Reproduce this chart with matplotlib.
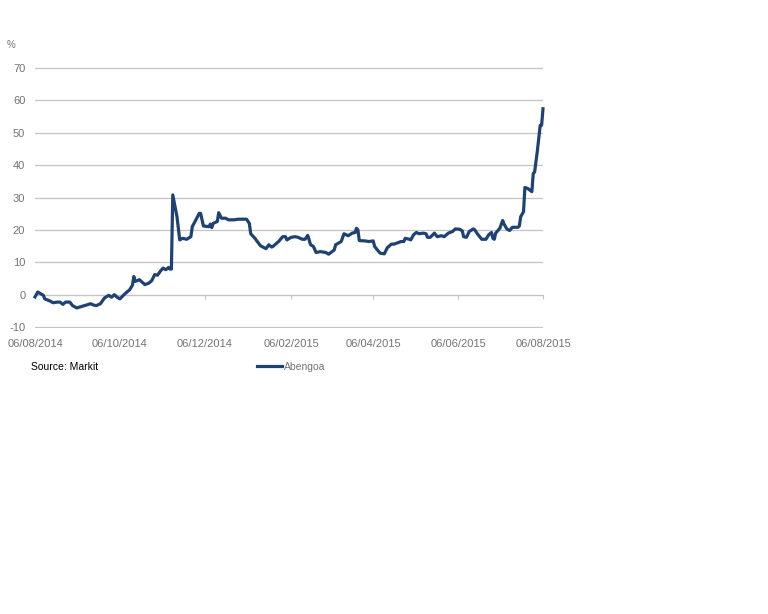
import pandas as pd
import matplotlib
matplotlib.use("Agg")
import matplotlib.pyplot as plt
import matplotlib.dates as mdates

plt.rcParams['font.family'] = ['Liberation Sans', 'DejaVu Sans']
plt.rcParams['axes.unicode_minus'] = False

# Abengoa series (dd/mm/yyyy dates, % values)
dates = [
    "2014-08-06", "2014-08-08", "2014-08-10", "2014-08-12", "2014-08-13", "2014-08-17",
    "2014-08-19", "2014-08-22", "2014-08-24", "2014-08-26", "2014-08-28", "2014-08-31",
    "2014-09-02", "2014-09-05", "2014-09-09", "2014-09-12", "2014-09-15", "2014-09-17",
    "2014-09-19", "2014-09-22", "2014-09-25", "2014-09-28", "2014-09-30", "2014-10-02",
    "2014-10-04", "2014-10-06", "2014-10-09", "2014-10-11", "2014-10-13", "2014-10-15",
    "2014-10-16", "2014-10-17", "2014-10-20", "2014-10-24", "2014-10-27", "2014-10-29",
    "2014-10-31", "2014-11-02", "2014-11-04", "2014-11-06", "2014-11-08", "2014-11-10",
    "2014-11-11", "2014-11-12", "2014-11-13", "2014-11-16", "2014-11-18", "2014-11-20",
    "2014-11-23", "2014-11-26", "2014-11-27", "2014-11-29", "2014-12-02", "2014-12-03",
    "2014-12-05", "2014-12-09", "2014-12-10", "2014-12-11", "2014-12-12", "2014-12-15",
    "2014-12-16", "2014-12-18", "2014-12-21", "2014-12-23", "2014-12-27", "2014-12-30",
    "2015-01-05", "2015-01-07", "2015-01-08", "2015-01-11", "2015-01-15", "2015-01-19",
    "2015-01-21", "2015-01-23", "2015-01-24", "2015-01-28", "2015-01-31", "2015-02-02",
    "2015-02-03", "2015-02-06", "2015-02-09", "2015-02-11", "2015-02-14", "2015-02-16",
    "2015-02-18", "2015-02-20", "2015-02-22", "2015-02-24", "2015-02-27", "2015-03-03",
    "2015-03-05", "2015-03-08", "2015-03-09", "2015-03-10", "2015-03-14", "2015-03-16",
    "2015-03-19", "2015-03-22", "2015-03-24", "2015-03-25", "2015-03-26", "2015-03-27",
    "2015-03-31", "2015-04-03", "2015-04-06", "2015-04-07", "2015-04-09", "2015-04-11",
    "2015-04-14", "2015-04-16", "2015-04-19", "2015-04-21", "2015-04-24", "2015-04-26",
    "2015-04-28", "2015-04-29", "2015-05-02", "2015-05-03", "2015-05-05", "2015-05-07",
    "2015-05-09", "2015-05-12", "2015-05-14", "2015-05-15", "2015-05-17", "2015-05-20",
    "2015-05-22", "2015-05-25", "2015-05-27", "2015-05-30", "2015-06-02", "2015-06-04",
    "2015-06-07", "2015-06-09", "2015-06-10", "2015-06-12", "2015-06-14", "2015-06-17",
    "2015-06-18", "2015-06-20", "2015-06-23", "2015-06-26", "2015-06-28", "2015-06-30",
    "2015-07-01", "2015-07-02", "2015-07-03", "2015-07-06", "2015-07-08", "2015-07-09",
    "2015-07-11", "2015-07-13", "2015-07-15", "2015-07-19", "2015-07-20", "2015-07-21",
    "2015-07-23", "2015-07-24", "2015-07-26", "2015-07-29", "2015-07-30", "2015-07-31",
    "2015-08-02", "2015-08-04", "2015-08-05", "2015-08-06",
]
abengoa = [
    -0.7, 0.8, 0.3, -0.2, -1.3, -2.0,
    -2.5, -2.3, -2.3, -3.0, -2.3, -2.3,
    -3.4, -4.1, -3.6, -3.2, -2.8, -3.2,
    -3.4, -2.8, -1.0, -0.2, -0.8, 0.0,
    -0.8, -1.3, 0.0, 0.8, 1.5, 2.9,
    5.6, 4.1, 4.6, 3.1, 3.6, 4.4,
    6.2, 6.0, 7.2, 8.2, 7.7, 8.4,
    7.9, 7.9, 30.8, 24.1, 16.9, 17.4,
    17.1, 17.9, 21.0, 22.6, 25.1, 25.1,
    21.2, 21.0, 21.8, 20.7, 22.0, 22.6,
    25.3, 23.6, 23.6, 23.1, 23.1, 23.3,
    23.3, 22.0, 18.8, 17.4, 15.1, 14.2,
    15.4, 14.7, 14.9, 16.4, 17.9, 17.9,
    16.9, 17.7, 17.9, 17.7, 17.1, 17.1,
    18.3, 15.4, 14.9, 13.0, 13.3, 13.0,
    12.5, 13.5, 13.8, 15.4, 16.4, 18.8,
    18.2, 19.0, 19.2, 20.5, 20.0, 16.7,
    16.6, 16.4, 16.6, 14.9, 13.8, 12.8,
    12.6, 14.4, 15.6, 15.6, 16.1, 16.4,
    16.4, 17.4, 17.1, 16.9, 18.5, 19.2,
    18.8, 19.0, 18.8, 17.7, 17.7, 19.0,
    17.9, 18.2, 17.9, 19.0, 19.5, 20.3,
    20.2, 19.7, 17.9, 17.7, 19.5, 20.3,
    20.0, 18.7, 17.1, 17.1, 18.5, 19.2,
    17.4, 17.1, 19.0, 20.5, 22.9, 21.8,
    20.3, 19.8, 20.8, 20.8, 21.2, 24.1,
    25.6, 33.1, 32.8, 31.8, 37.4, 37.9,
    44.6, 52.3, 52.3, 57.4,
]
tick_dates = ["2014-08-06", "2014-10-06", "2014-12-06", "2015-02-06",
              "2015-04-06", "2015-06-06", "2015-08-06"]
y_ticks = [-10, 0, 10, 20, 30, 40, 50, 60, 70]

df = pd.DataFrame({"date": pd.to_datetime(dates), "Abengoa": abengoa})

fig = plt.figure(figsize=(7.68, 6.14), dpi=100)
ax = fig.add_axes([35 / 768, 1 - 328 / 614, 508 / 768, 261 / 614])

grid_col = "#c4c4c4"
text_col = "#737373"

ax.plot(df["date"], df["Abengoa"], color="#1f4275", lw=2.3, label="Abengoa",
        solid_joinstyle="round", clip_on=False, zorder=3)

ax.set_ylim(-10.3, 70.3)
ax.set_xlim(pd.Timestamp(tick_dates[0]), pd.Timestamp(tick_dates[-1]))
ax.set_yticks(y_ticks)
ax.yaxis.grid(True, color=grid_col, lw=0.9)
ax.set_axisbelow(True)

# x axis sits on the zero line, labels pushed down below the -10 gridline
ax.spines['bottom'].set_position(('data', 0))
ax.spines['bottom'].set_color(grid_col)
for s in ['top', 'right', 'left']:
    ax.spines[s].set_visible(False)
ax.set_xticks(pd.to_datetime(tick_dates))
ax.xaxis.set_major_formatter(mdates.DateFormatter("%d/%m/%Y"))
ax.tick_params(axis='x', length=3, color=grid_col, pad=29, labelsize=8, labelcolor=text_col)
ax.tick_params(axis='y', length=0, pad=7, labelsize=8, labelcolor=text_col)

fig.text(7 / 768, 1 - 45 / 614, "%", fontsize=7, color=text_col, va='center')
fig.text(31 / 768, 1 - 367 / 614, "Source: Markit", fontsize=7.5, color="black", va='center')

fig.legend(loc='center left', bbox_to_anchor=(252 / 768, 1 - 367 / 614),
           frameon=False, fontsize=7.5, handlelength=2.4, handletextpad=0.15,
           borderpad=0, labelcolor=text_col)

fig.savefig("out.png", dpi=100)
